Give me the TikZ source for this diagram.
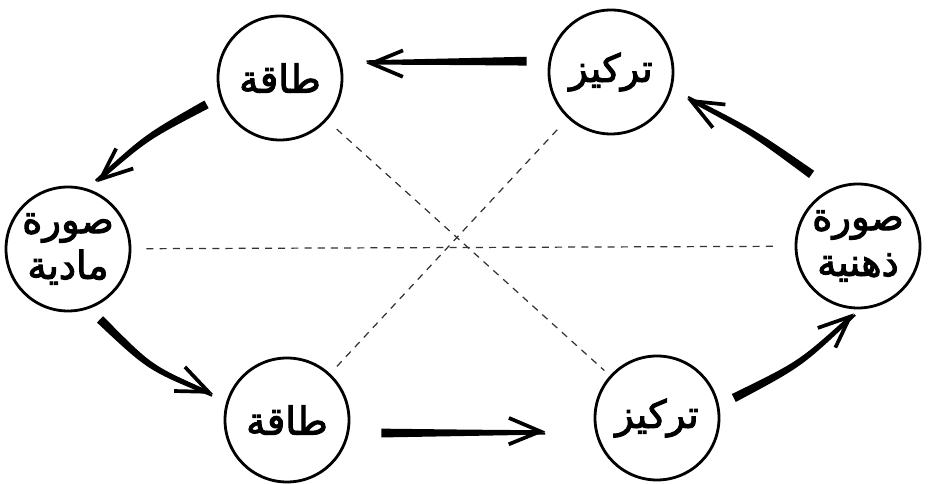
\documentclass[tikz,border=0pt]{standalone}
\usepackage{fontspec}
\usepackage{tikz}
\usetikzlibrary{arrows.meta, calc}
\newfontfamily\arabicfont[Script=Arabic, FakeBold=2.5]{DejaVu Sans}
\TeXXeTstate=1

\begin{document}
\begin{tikzpicture}[
    word/.style={circle, draw, line width=1.6pt, minimum size=2.48cm, inner sep=0pt,
      align=center, font=\arabicfont\fontsize{22}{26}\selectfont},
    link/.style={dash pattern=on 4pt off 3.5pt, line width=0.7pt, black!80},
    flow/.style n args={3}{draw, fill, line width=1.3pt,
      -{Straight Barb[length=18pt, width=15pt, line width=2.1pt]},
      to path={let \p1=($(\tikztostart)!#2!(\tikztotarget)$),
                   \p2=($(\tikztotarget)!#3!(\tikztostart)$),
                   \n1={atan2(\y2-\y1,\x2-\x1)},
                   \p3=($(\p1)!0.5!(\p2)+({\n1-90}:#1)$),
                   \n2={atan2(\y3-\y1,\x3-\x1)},
                   \n3={atan2(\y2-\y3,\x2-\x3)}
               in ($(\p2)+({\n3-90}:0.02)$) .. controls ($(\p3)+({\n1-90}:0.04)$) .. ($(\p1)+({\n2-90}:0.065)$)
                  -- ($(\p1)+({\n2+90}:0.065)$) .. controls ($(\p3)+({\n1+90}:0.04)$) .. ($(\p2)+({\n3+90}:0.02)$)}},
  ]
  \useasboundingbox (0,0) rectangle (18.62,9.68);

  \node[word] (energyT) at (5.60,8.12) {\beginR طاقة\endR};
  \node[word] (focusT) at (12.22,8.24) {\beginR تركيز\endR};
  \node[word] (physical) at (1.36,4.70) {\beginR صورة\endR\\\beginR مادية\endR};
  \node[word] (mental) at (17.16,4.76) {\beginR صورة\endR\\\beginR ذهنية\endR};
  \node[word] (energyB) at (5.74,1.28) {\beginR طاقة\endR};
  \node[word] (focusB) at (13.14,1.32) {\beginR تركيز\endR};

  % the cycle
  \path (focusT.170) edge[flow={0}{0.46cm}{0.50cm}] (energyT.14)
        (energyT.196) edge[flow={0.15}{0.33cm}{0.24cm}] (physical.73)
        (physical.286) edge[flow={0.25}{0.37cm}{0.32cm}] (energyB.165)
        (energyB.348) edge[flow={0}{0.67cm}{1.0cm}] (focusB.193)
        (focusB.9) edge[flow={0.2}{0.37cm}{0.17cm}] (mental.273)
        (mental.113) edge[flow={0.1}{0.53cm}{0.36cm}] (focusT.345);

  % dashed links across
  \draw[link, shorten <=0.3cm, shorten >=0.33cm] (physical) -- (mental);
  \draw[link, shorten <=0.26cm, shorten >=0.15cm] (energyT) -- (focusB);
  \draw[link, shorten <=0.31cm, shorten >=0.19cm] (focusT) -- (energyB);
\end{tikzpicture}
\end{document}
